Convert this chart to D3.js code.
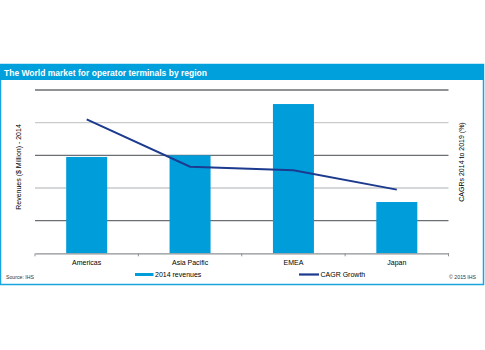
<!DOCTYPE html>
<html><head><meta charset="utf-8">
<script src="https://cdn.jsdelivr.net/npm/d3@7"></script>
<style>
body{margin:0;background:#fff;}
svg{display:block;font-family:"Liberation Sans",Arial,sans-serif;}
</style></head>
<body><svg id="c" width="485" height="350"></svg>
<script>
const categories = ["Americas", "Asia Pacific", "EMEA", "Japan"];
const revenues2014 = [2.95, 3.0, 4.57, 1.57];
const cagrGrowth = [4.1, 2.65, 2.54, 1.95];
const gridValues = [1, 2, 3, 4, 5];
const titleText = "The World market for operator terminals by region";
const leftTitle = "Revenues ($ Million) - 2014";
const rightTitle = "CAGRs 2014 to 2019 (%)";
const legendLabels = ["2014 revenues", "CAGR Growth"];

const svg = d3.select("#c");
const blue = "#009ddb", navy = "#1c3a8e";

// frame
svg.append("rect").attr("x", 0.5).attr("y", 64.5).attr("width", 483).attr("height", 220)
  .attr("fill", "#fff").attr("stroke", "#1aa5df").attr("stroke-width", 1.5);
svg.append("rect").attr("x", 0).attr("y", 64).attr("width", 484).attr("height", 16).attr("fill", "#00a0dc");
svg.append("text").attr("x", 4).attr("y", 76).attr("fill", "#fff").attr("font-weight", "bold")
  .attr("font-size", 8.5).text(titleText);

const x = d3.scaleBand().domain(categories).range([35, 448.5]).paddingInner(0).paddingOuter(0);
const y = d3.scaleLinear().domain([0, 5]).range([253.3, 90]);
const y2 = d3.scaleLinear().domain([0, 5]).range([253.3, 90]);

// grid
svg.append("g").selectAll("line").data(gridValues).join("line")
  .attr("x1", 35).attr("x2", 448.5).attr("y1", d => y(d)).attr("y2", d => y(d))
  .attr("stroke", d => d % 2 ? "#6b6f73" : "#c8cacc").attr("stroke-width", 1.3);

// bars
const bw = 41;
svg.append("g").selectAll("rect").data(categories).join("rect")
  .attr("x", d => x(d) + x.bandwidth() / 2 - bw / 2)
  .attr("width", bw)
  .attr("y", (d, i) => y(revenues2014[i]))
  .attr("height", (d, i) => y(0) - y(revenues2014[i]))
  .attr("fill", blue);

// x axis
const xa = svg.append("g").attr("transform", `translate(0,${y(0)})`)
  .call(d3.axisBottom(x).tickSize(0).tickPadding(7));
xa.select(".domain").attr("stroke", "#8e9194").attr("stroke-width", 1.2);
xa.selectAll("text").attr("font-size", 7).attr("fill", "#000").attr("font-family", "Liberation Sans, Arial, sans-serif");
const edges = categories.map(c => x(c)).concat([x.range()[1]]);
xa.selectAll("line.edge").data(edges).join("line").attr("class", "edge")
  .attr("x1", d => d).attr("x2", d => d).attr("y1", 0).attr("y2", 3)
  .attr("stroke", "#8e9194").attr("stroke-width", 1);

// line
const line = d3.line().x((d, i) => x(categories[i]) + x.bandwidth() / 2).y(d => y2(d));
svg.append("path").datum(cagrGrowth).attr("d", line).attr("fill", "none")
  .attr("stroke", navy).attr("stroke-width", 2);

// axis titles
svg.append("text").attr("transform", `translate(21,167) rotate(-90)`).attr("text-anchor", "middle")
  .attr("font-size", 7).text(leftTitle);
svg.append("text").attr("transform", `translate(464,162) rotate(-90)`).attr("text-anchor", "middle")
  .attr("font-size", 7).text(rightTitle);

// legend
svg.append("rect").attr("x", 135).attr("y", 273).attr("width", 18.5).attr("height", 3).attr("fill", blue);
svg.append("text").attr("x", 155).attr("y", 277).attr("font-size", 7).text(legendLabels[0]);
svg.append("line").attr("x1", 299).attr("x2", 319).attr("y1", 274.5).attr("y2", 274.5)
  .attr("stroke", navy).attr("stroke-width", 2.2);
svg.append("text").attr("x", 320.5).attr("y", 277).attr("font-size", 7).text(legendLabels[1]);

// source
svg.append("text").attr("x", 6).attr("y", 279).attr("font-size", 5.2).attr("fill", "#333").text("Source: IHS");
svg.append("text").attr("x", 476).attr("y", 279).attr("text-anchor", "end").attr("font-size", 5.2).attr("fill", "#333").text("© 2015 IHS");
</script></body></html>
